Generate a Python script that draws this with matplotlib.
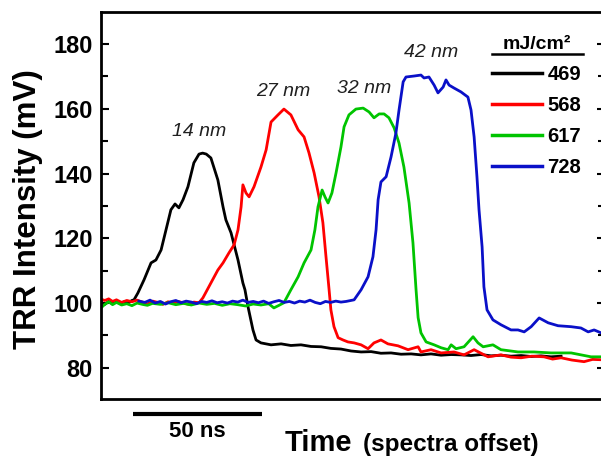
import matplotlib
matplotlib.use("Agg")
import matplotlib.pyplot as plt
from matplotlib.lines import Line2D
from matplotlib.ticker import MultipleLocator
import matplotlib.transforms as mtransforms

plt.rcParams['font.family'] = ['Liberation Sans', 'DejaVu Sans']

# time in ns (arbitrary offset), TRR intensity in mV
t_469 = [0, 1.5, 3, 4.5, 6, 7.5, 9, 10.5, 12.0, 12.8, 14.3, 16.7, 19.4, 21.3, 23.3, 25.2, 27.1, 28.7, 30.2, 31.8,
         33.7, 36.0, 38.0, 39.4, 40.8, 42.6, 45.3, 47.3, 48.4, 50.4, 53.1, 55.0, 55.8, 57.0, 58.9, 60.1, 62.0, 65.9,
         69.8, 73.6, 77.5, 81.4, 85.3, 89.1, 93.0, 96.9, 100.8, 104.7, 108.5, 112.4, 116.3, 120.2, 124.0, 127.9,
         131.8, 135.7, 139.5, 143.4, 147.3, 151.2, 155.0, 158.9, 162.8, 166.7, 170.5, 174.4, 178.3]
v_469 = [100.3, 99.6, 100.5, 99.8, 100.6, 99.9, 100.4, 100.0, 100.8, 101.0, 103.1, 107.2, 112.4, 113.3, 116.4, 122.6,
         128.8, 130.6, 129.4, 131.9, 135.9, 143.3, 146.0, 146.3, 146.0, 144.8, 138.0, 129.7, 125.7, 121.7, 113.3,
         106.2, 104.1, 98.8, 91.7, 88.6, 87.7, 87.1, 87.4, 86.9, 87.1, 86.6, 86.5, 86.0, 85.8, 85.2, 84.9, 85.0, 84.5,
         84.6, 84.2, 84.3, 84.0, 84.3, 83.9, 84.1, 84.0, 83.8, 84.1, 83.7, 83.9, 83.6, 83.8, 83.5, 83.7, 83.4, 83.6]

t_568 = [0, 1.5, 3, 4.5, 6, 8, 10, 12, 14, 16, 18, 20, 22, 24, 26, 28, 30, 32, 34, 36, 38, 39.5, 42.6, 45.3, 47.3,
         49.6, 51.6, 53.1, 54.3, 55.0, 56.2, 57.4, 59.3, 62.0, 64.0, 65.9, 68.6, 70.9, 73.6, 76.4, 78.7, 80.6, 82.6,
         84.5, 86.0, 87.2, 88.4, 89.1, 90.3, 91.9, 93.8, 95.7, 98.1, 100.8, 103.5, 105.8, 108.5, 111.2, 115.1, 119.0,
         122.9, 124.0, 127.9, 131.8, 136.8, 140.7, 144.6, 150.0, 155.0, 158.9, 162.8, 167.0, 171.7, 175.0, 178.3,
         182.5, 187.2, 190.5, 193.8]
v_568 = [101.2, 100.8, 101.3, 100.5, 101.0, 100.2, 100.8, 100.4, 100.9, 100.3, 99.7, 100.6, 100.2, 99.6, 100.4, 99.9,
         100.5, 100.0, 99.6, 100.3, 100.1, 101.6, 106.2, 110.2, 112.4, 115.5, 118.0, 122.6, 129.7, 136.5, 134.0,
         132.8, 135.9, 142.0, 147.3, 155.9, 158.1, 159.9, 158.1, 153.5, 151.3, 146.4, 140.2, 132.8, 124.8, 114.3,
         104.1, 97.9, 92.7, 89.3, 88.6, 88.0, 87.7, 87.1, 85.9, 87.7, 88.6, 87.4, 86.8, 85.6, 86.5, 84.9, 85.6, 84.6,
         84.9, 84.0, 85.6, 83.4, 84.0, 83.3, 83.1, 83.6, 83.4, 82.7, 83.1, 82.4, 81.9, 82.6, 82.5]

t_617 = [0, 1.5, 3, 4.5, 6, 8, 10, 12, 14, 16, 18, 20, 23, 26, 29, 32, 35, 38, 41, 44, 47, 50, 53, 56, 59, 62, 65,
         67, 69, 70.9, 73.6, 76.4, 78.7, 81.4, 82.9, 84.1, 85.7, 86.8, 88.0, 89.5, 91.1, 93.0, 94.2, 96.1, 98.8,
         101.6, 103.9, 105.8, 107.8, 109.7, 111.6, 113.6, 115.5, 117.4, 119.4, 120.9, 122.1, 122.9, 124.0, 126.0,
         129.1, 131.8, 134.5, 135.7, 137.6, 140.7, 144.2, 146.1, 148.1, 151.9, 155.0, 161.6, 167.8, 174.4, 182.2,
         189.9, 193.8]
v_617 = [98.5, 99.6, 100.4, 99.5, 100.2, 99.4, 99.8, 99.2, 100.0, 99.6, 99.3, 99.9, 99.6, 100.1, 99.5, 99.9, 99.4,
         100.0, 99.6, 99.9, 99.3, 99.8, 99.5, 99.1, 99.7, 99.4, 99.8, 98.5, 99.3, 100.1, 104.1, 108.1, 112.4, 116.4,
         122.6, 129.7, 134.9, 132.8, 130.9, 134.0, 140.2, 148.2, 154.4, 158.1, 159.9, 160.2, 159.0, 157.2, 158.4,
         158.4, 157.2, 154.1, 149.4, 142.0, 130.9, 118.6, 104.1, 95.5, 90.8, 88.0, 87.1, 86.2, 85.6, 87.1, 85.9,
         86.5, 89.6, 87.7, 86.5, 87.1, 85.6, 84.9, 84.9, 84.6, 84.6, 83.4, 83.4]

t_728 = [14.7, 17, 19, 21, 23, 25, 27, 29, 31, 33, 35, 37, 39, 41, 43, 45, 47, 49, 51, 53, 55, 57, 59, 61, 63, 65,
         67, 69, 71, 73, 75, 77, 79, 81, 83, 85, 87, 89, 91, 93, 95, 98.1, 100.8, 103.5, 105.4, 106.6, 107.4, 108.5,
         110.5, 112.4, 114.3, 115.5, 117.1, 118.2, 121.3, 124.0, 125.2, 127.1, 129.1, 130.6, 132.6, 133.7, 134.9,
         136.8, 139.5, 142.2, 143.4, 144.6, 145.7, 146.5, 147.7, 148.4, 149.6, 151.9, 155.0, 158.9, 161.6, 164.0,
         166.7, 169.8, 173.3, 177.1, 182.2, 186.0, 188.8, 191.1, 193.8]
v_728 = [100.6, 100.2, 100.9, 100.0, 100.5, 99.7, 100.4, 100.8, 100.1, 100.6, 100.3, 99.8, 100.5, 100.2, 100.7,
         100.1, 100.4, 100.0, 100.6, 100.3, 100.9, 100.2, 100.5, 100.1, 100.6, 99.9, 100.4, 100.8, 100.2, 100.5,
         100.0, 100.6, 100.3, 100.9, 100.2, 99.8, 100.5, 100.2, 100.6, 100.3, 100.5, 101.0, 104.1, 108.1, 114.3,
         122.6, 131.9, 137.4, 139.0, 145.1, 152.5, 159.6, 168.3, 169.8, 170.1, 170.4, 169.5, 169.8, 167.3, 164.9,
         166.7, 168.9, 167.3, 166.4, 165.2, 163.6, 159.6, 151.3, 139.0, 128.8, 117.3, 105.0, 97.9, 94.8, 93.3, 91.7,
         91.7, 91.1, 92.7, 95.4, 93.9, 93.0, 92.7, 92.3, 91.1, 91.7, 90.8]

fluences = ['469', '568', '617', '728']
colors = ['#000000', '#ff0000', '#00c400', '#0a10c8']

# film thickness labels at each peak
thick_labels = ['14 nm', '27 nm', '32 nm', '42 nm']
thick_x = [38.0, 70.5, 101.9, 127.9]
thick_y = [153.1, 165.2, 166.1, 177.5]

fig = plt.figure(figsize=(6.01, 4.58), dpi=100)
ax = fig.add_axes([0.168, 0.129, 0.839, 0.845])

series = [(t_469, v_469), (t_568, v_568), (t_617, v_617), (t_728, v_728)]
for (t, v), lab, c in zip(series, fluences, colors):
    ax.plot(t, v, color=c, lw=2.0, label=lab)

for lab, x, y in zip(thick_labels, thick_x, thick_y):
    ax.text(x, y, lab, ha='center', va='center', fontsize=14, style='italic', color='#202020')

ax.set_xlim(0, 195.4)
ax.set_ylim(70.4, 189.9)
ax.set_xticks([])
ax.yaxis.set_major_locator(MultipleLocator(20))
ax.yaxis.set_minor_locator(MultipleLocator(10))
ax.tick_params(axis='y', which='both', direction='in', right=True, width=1.5)
ax.tick_params(axis='y', which='major', length=6, pad=6, labelsize=17)
ax.tick_params(axis='y', which='minor', length=5)
for lbl in ax.get_yticklabels():
    lbl.set_fontweight('bold')
for sp in ax.spines.values():
    sp.set_linewidth(2.0)

leg = ax.legend(title='mJ/cm²', loc='upper left', bbox_to_anchor=(492 / 601, 1 - 36 / 458),
                bbox_transform=fig.transFigure, frameon=False, borderpad=0, borderaxespad=0,
                handlelength=2.5, handletextpad=0.25, labelspacing=0.6,
                prop={'size': 14.5, 'weight': 'bold'},
                title_fontproperties={'size': 14, 'weight': 'bold'})
for h in leg.get_lines():
    h.set_linewidth(2.5)
fig.add_artist(Line2D([492 / 601, 583 / 601], [1 - 54 / 458, 1 - 54 / 458], color='black', lw=1.8))

# 50 ns scale bar under the axis
trans = mtransforms.blended_transform_factory(ax.transData, ax.transAxes)
ax.plot([12.4, 62.4], [-0.039, -0.039], color='black', lw=3, transform=trans, clip_on=False,
        solid_capstyle='butt')
ax.text(37.4, -0.085, '50 ns', transform=trans, ha='center', va='center', fontsize=16, fontweight='bold')

fig.text(0.047, 0.544, 'TRR Intensity (mV)', rotation=90, ha='center', va='center',
         fontsize=22.5, fontweight='bold')
fig.text(285 / 601, 1 - 451 / 458, 'Time', ha='left', va='baseline', fontsize=21, fontweight='bold')
fig.text(363 / 601, 1 - 451 / 458, '(spectra offset)', ha='left', va='baseline', fontsize=17.5, fontweight='bold')

fig.savefig('out.png', dpi=100)
